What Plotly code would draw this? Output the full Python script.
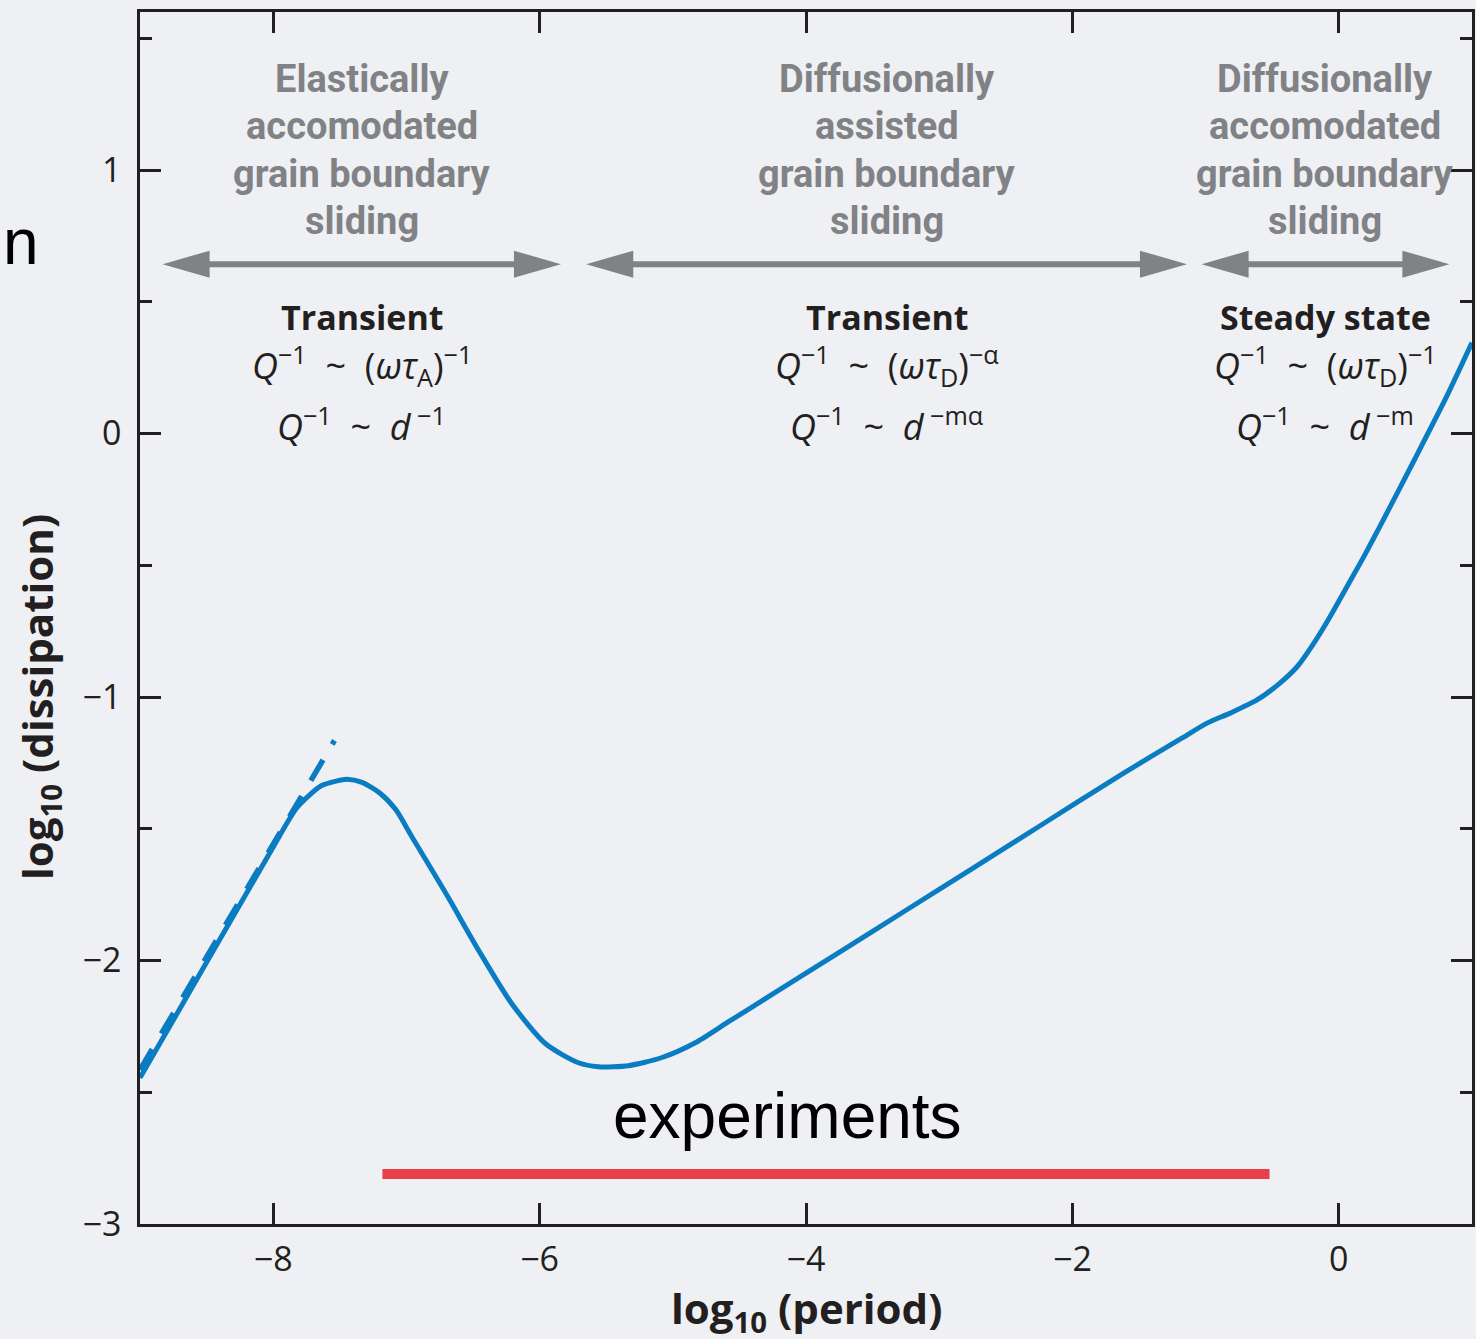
import plotly.graph_objects as go

# ---------------- data ----------------
period_log = [-9.0, -8.5, -8.0, -7.83, -7.73, -7.633, -7.528, -7.446, -7.333, -7.2, -7.08,
              -6.959, -6.704, -6.457, -6.210, -5.955, -5.708, -5.558, -5.333, -5.086, -4.831,
              -4.584, -4.337, -4.060, -3.5, -3.0, -2.5, -1.963, -1.6, -1.191, -0.989, -0.816,
              -0.614, -0.442, -0.315, -0.187, -0.067, 0.060, 0.187, 0.307, 0.562, 0.809, 1.0]
dissipation_log = [-2.445, -2.007, -1.569, -1.425, -1.373, -1.335, -1.319, -1.312, -1.324, -1.364,
                   -1.427, -1.530, -1.745, -1.962, -2.163, -2.316, -2.388, -2.403, -2.399, -2.369,
                   -2.312, -2.233, -2.155, -2.067, -1.889, -1.730, -1.571, -1.399, -1.284, -1.160,
                   -1.099, -1.061, -1.011, -0.947, -0.886, -0.795, -0.696, -0.582, -0.468, -0.354,
                   -0.105, 0.14, 0.345]

asym_x = [-9.0, -7.54]
asym_y = [-2.415, -1.165]

exp_x = [-7.18, -0.52]
exp_y = [-2.81, -2.81]
exp_label = "experiments"
exp_label_x = -4.14
exp_label_y = -2.589

regime_start = [-8.83, -5.65, -1.03]
regime_end = [-5.84, -1.14, 0.83]
regime_arrow_y = 0.643
regime_mech = [
    ["Elastically", "accomodated", "grain boundary", "sliding"],
    ["Diffusionally", "assisted", "grain boundary", "sliding"],
    ["Diffusionally", "accomodated", "grain boundary", "sliding"],
]
regime_state = ["Transient", "Transient", "Steady state"]
regime_freq = [
    "<i>Q</i><sup>−1</sup>  ~  (<i>ωτ</i><sub>A</sub>)<sup>−1</sup>",
    "<i>Q</i><sup>−1</sup>  ~  (<i>ωτ</i><sub>D</sub>)<sup>−α</sup>",
    "<i>Q</i><sup>−1</sup>  ~  (<i>ωτ</i><sub>D</sub>)<sup>−1</sup>",
]
regime_size = [
    "<i>Q</i><sup>−1</sup>  ~  <i>d</i><sup> −1</sup>",
    "<i>Q</i><sup>−1</sup>  ~  <i>d</i><sup> −mα</sup>",
    "<i>Q</i><sup>−1</sup>  ~  <i>d</i><sup> −m</sup>",
]

x_ticks = [-8, -6, -4, -2, 0]
y_ticks = [-3, -2, -1, 0, 1]

# ---------------- style ----------------
BG = "#eef0f3"
INK = "#231f20"
GRAY = "#808285"
BLUE = "#0a7cc1"
RED = "#e93f48"
MYRIAD = "Open Sans, Noto Sans, sans-serif"
COND = "Roboto, Liberation Sans Narrow, sans-serif"
HELV = "Liberation Sans, Helvetica, Arial, sans-serif"

fig = go.Figure()

fig.add_trace(go.Scatter(x=asym_x, y=asym_y, mode="lines",
                         line=dict(color=BLUE, width=5.5, dash="24px,18px"),
                         hoverinfo="skip", showlegend=False))
fig.add_trace(go.Scatter(x=period_log, y=dissipation_log, mode="lines",
                         line=dict(color=BLUE, width=5, shape="spline", smoothing=0.7),
                         showlegend=False))
fig.add_trace(go.Scatter(x=exp_x, y=exp_y, mode="lines",
                         line=dict(color=RED, width=10), showlegend=False))

annotations = []
shapes = []
PX_PER_X = 133.5
HEAD = 47
for i in range(3):
    xs, xe = regime_start[i], regime_end[i]
    xc = (xs + xe) / 2
    shapes.append(dict(type="line", xref="x", yref="y",
                       x0=xs + 30 / PX_PER_X, x1=xe - 30 / PX_PER_X,
                       y0=regime_arrow_y, y1=regime_arrow_y,
                       line=dict(color=GRAY, width=6)))
    shapes.append(dict(type="path", xref="x", yref="y", xsizemode="pixel", ysizemode="pixel",
                       xanchor=xe, yanchor=regime_arrow_y,
                       path=f"M0,0 L{-HEAD},13.5 L{-HEAD},-13.5 Z",
                       fillcolor=GRAY, line=dict(width=0)))
    shapes.append(dict(type="path", xref="x", yref="y", xsizemode="pixel", ysizemode="pixel",
                       xanchor=xs, yanchor=regime_arrow_y,
                       path=f"M0,0 L{HEAD},13.5 L{HEAD},-13.5 Z",
                       fillcolor=GRAY, line=dict(width=0)))
    for j, line in enumerate(regime_mech[i]):
        annotations.append(dict(x=xc, y=1.346, xref="x", yref="y", yshift=-47.5 * j,
                                text=f"<b>{line}</b>", showarrow=False,
                                xanchor="center", yanchor="middle",
                                font=dict(family=COND, size=38, color=GRAY)))
    annotations.append(dict(x=xc, y=0.441, xref="x", yref="y", text=f"<b>{regime_state[i]}</b>",
                            showarrow=False, xanchor="center", yanchor="middle",
                            font=dict(family=MYRIAD, size=34, color=INK)))
    annotations.append(dict(x=xc, y=0.258, xref="x", yref="y", text=regime_freq[i],
                            showarrow=False, xanchor="center", yanchor="middle",
                            font=dict(family=MYRIAD, size=36, color=INK)))
    annotations.append(dict(x=xc, y=0.036, xref="x", yref="y", text=regime_size[i],
                            showarrow=False, xanchor="center", yanchor="middle",
                            font=dict(family=MYRIAD, size=36, color=INK)))

annotations.append(dict(x=exp_label_x, y=exp_label_y, xref="x", yref="y",
                        text=exp_label, showarrow=False, xanchor="center", yanchor="middle",
                        font=dict(family=HELV, size=64, color="#000000")))
annotations.append(dict(x=-0.0891, y=0.81, xref="paper", yref="paper", text="n",
                        showarrow=False, xanchor="center", yanchor="middle",
                        font=dict(family=HELV, size=64, color="#000000")))
annotations.append(dict(x=0.5, y=-0.071, xref="paper", yref="paper",
                        text="<b>log<sub>10</sub> (period)</b>", showarrow=False,
                        xanchor="center", yanchor="middle",
                        font=dict(family=MYRIAD, size=42, color=INK)))
annotations.append(dict(x=-0.0749, y=0.435, xref="paper", yref="paper", textangle=-90,
                        text="<b>log<sub>10</sub> (dissipation)</b>", showarrow=False,
                        xanchor="center", yanchor="middle",
                        font=dict(family=MYRIAD, size=42, color=INK)))

axis_common = dict(showgrid=False, zeroline=False, showline=True, linecolor=INK, linewidth=2.5,
                   ticks="inside", tickcolor=INK, tickwidth=2.5, ticklen=21, mirror="ticks",
                   tickfont=dict(family=MYRIAD, size=34, color=INK))

fig.update_xaxes(range=[-9, 1], tickvals=x_ticks, ticklabelstandoff=3, **axis_common)
fig.update_yaxes(range=[-3, 1.6], tickvals=y_ticks, ticklabelstandoff=9,
                 minor=dict(dtick=0.5, tick0=0, ticks="inside", ticklen=12, tickwidth=2.5,
                            tickcolor=INK, showgrid=False),
                 **axis_common)

fig.update_layout(width=1476, height=1339,
                  margin=dict(l=140, r=1, t=12, b=115),
                  paper_bgcolor=BG, plot_bgcolor=BG,
                  shapes=shapes, annotations=annotations, showlegend=False)

fig.write_html("out.html")
